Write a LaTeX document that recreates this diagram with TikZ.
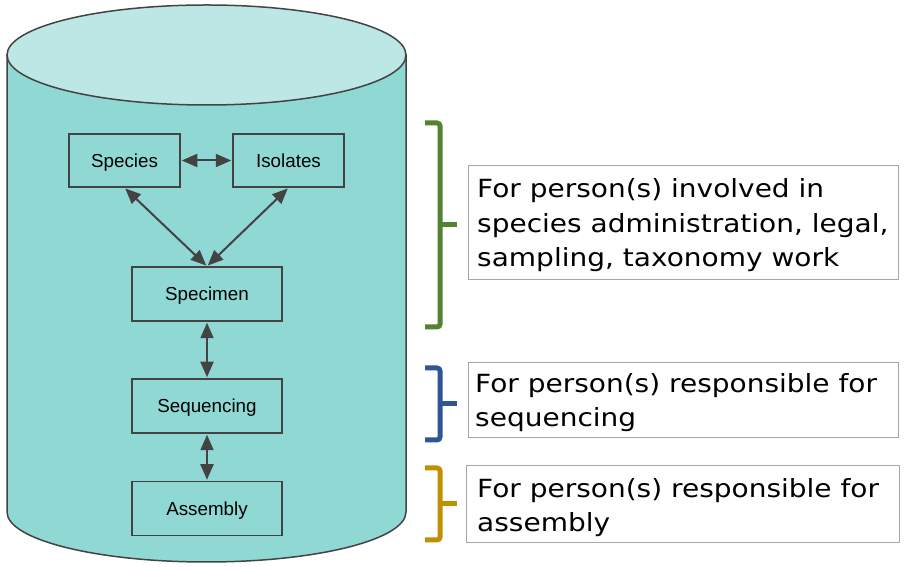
\documentclass[tikz,border=0pt]{standalone}
\usepackage{fontspec}
\setmainfont{Liberation Sans}
\newfontfamily\boxfont[FakeStretch=1.12]{DejaVu Sans}
\usetikzlibrary{arrows.meta}
\definecolor{bodyc}{HTML}{8FD8D3}
\definecolor{topc}{HTML}{BDE7E5}
\definecolor{edgec}{HTML}{434343}
\definecolor{gbr}{HTML}{548235}
\definecolor{bbr}{HTML}{2F5597}
\definecolor{ybr}{HTML}{BF9000}
\definecolor{boxline}{HTML}{A6A6A6}
\tikzset{
  entity/.style={draw=edgec, line width=1.5pt, fill=bodyc, minimum width=111pt, minimum height=53pt, inner sep=0pt, text height=13.5pt, text depth=0pt, font=\fontsize{18.8}{22}\selectfont},
  wide/.style={entity, minimum width=150pt, minimum height=54pt},
  link/.style={draw=edgec, line width=2pt, {Triangle[length=15.5pt,width=13pt]}-{Triangle[length=15.5pt,width=13pt]}, shorten <=1pt, shorten >=1pt},
  brace/.style={line width=5pt, rounded corners=3pt},
  notebox/.style={draw=boxline, line width=1pt, fill=white, inner sep=0pt},
  notetext/.style={inner sep=0pt, align=left, font=\boxfont\fontsize{25}{34.5}\selectfont}
}
\begin{document}
\begin{tikzpicture}[x=1pt,y=1pt]
\useasboundingbox (0,0) rectangle (906,567);
% cylinder
\path[fill=bodyc, draw=edgec, line width=1.5pt] (7,512) -- (7,55) arc[start angle=180, end angle=360, x radius=199.5, y radius=50] -- (406,512) -- cycle;
\path[fill=topc, draw=edgec, line width=1.5pt] (206.5,512) ellipse[x radius=199.5, y radius=50];
% entities
\node[entity] (species) at (124.5,406.5) {Species};
\node[entity] (isolates) at (288.5,406.5) {Isolates};
\node[wide] (specimen) at (207,273) {Specimen};
\node[wide] (sequencing) at (207,161) {Sequencing};
\node[wide] (assembly) at (207,58.5) {Assembly};
\draw[link] (species) -- (isolates);
\draw[link] (species.south) -- (specimen.north);
\draw[link] (isolates.south) -- (specimen.north);
\draw[link] (specimen) -- (sequencing);
\draw[link] (sequencing) -- (assembly);
% braces
\draw[brace, gbr] (425,444) -- (440,444) -- (440,240) -- (425,240);
\draw[gbr, line width=5pt] (440,342) -- (457,342);
\draw[brace, bbr] (425,199) -- (440,199) -- (440,127) -- (425,127);
\draw[bbr, line width=5pt] (440,163) -- (457,163);
\draw[brace, ybr] (425,99) -- (440,99) -- (440,27) -- (425,27);
\draw[ybr, line width=5pt] (440,63) -- (457,63);
% notes
\node[notebox, minimum width=430pt, minimum height=114pt] (gbox) at (683,344) {};
\node[notetext, anchor=base west] (gtext) at (477,300) {For person(s) involved in\\species administration, legal,\\sampling, taxonomy work};
\node[notebox, minimum width=430pt, minimum height=75pt] (bbox) at (683,166.5) {};
\node[notetext, anchor=base west] (btext) at (475,140) {For person(s) responsible for\\sequencing};
\node[notebox, minimum width=433pt, minimum height=77pt] (ybox) at (682.5,62.5) {};
\node[notetext, anchor=base west] (ytext) at (477,35) {For person(s) responsible for\\assembly};
\end{tikzpicture}
\end{document}
